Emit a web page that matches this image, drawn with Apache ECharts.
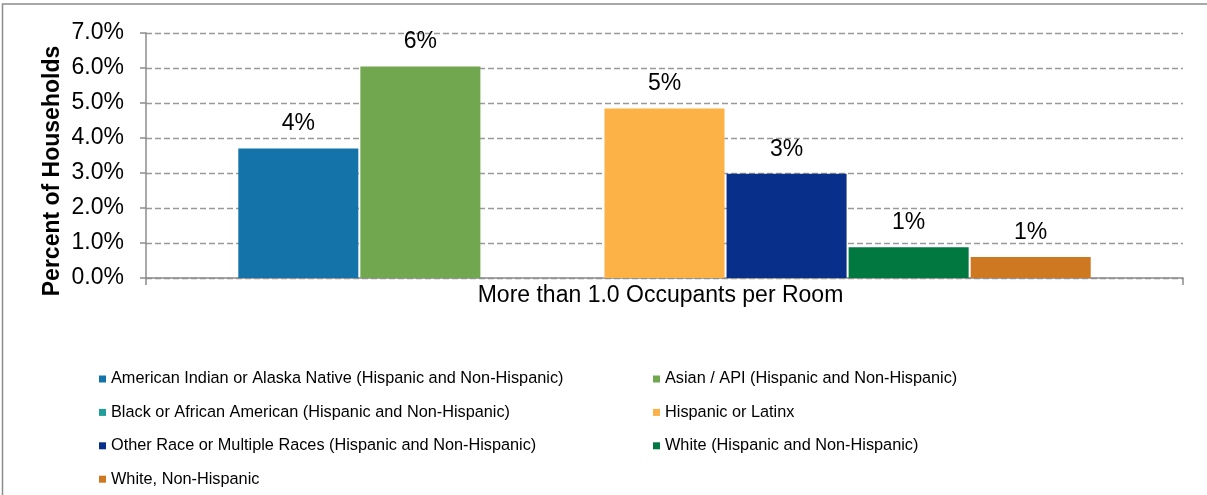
<!DOCTYPE html>
<html>
<head>
<meta charset="utf-8">
<script src="https://cdn.jsdelivr.net/npm/echarts@6/dist/echarts.min.js"></script>
<style>
  html, body { margin: 0; padding: 0; background: #fff; }
  #charts { width: 1207px; height: 495px; }
</style>
</head>
<body>
<div id="charts"></div>
<script>
var categories = ["More than 1.0 Occupants per Room"];
var seriesNames = [
  "American Indian or Alaska Native (Hispanic and Non-Hispanic)",
  "Asian / API (Hispanic and Non-Hispanic)",
  "Black or African American (Hispanic and Non-Hispanic)",
  "Hispanic or Latinx",
  "Other Race or Multiple Races (Hispanic and Non-Hispanic)",
  "White (Hispanic and Non-Hispanic)",
  "White, Non-Hispanic"
];
// percent of households, one value per series (Black has no bar)
var seriesValues = [3.7, 6.04, null, 4.84, 2.98, 0.88, 0.6];
var seriesColors = ["#1474a9", "#71a74f", "#1f9e9b", "#fdb247", "#082f89", "#017840", "#cf7822"];
var yTicks = [0, 1, 2, 3, 4, 5, 6, 7];

var font = "'Liberation Sans', Arial, sans-serif";

var series = [];
for (var i = 0; i < seriesNames.length; i++) {
  series.push({
    name: seriesNames[i],
    type: 'bar',
    barCategoryGap: '17.8%',
    barGap: '1.7%',
    itemStyle: { color: seriesColors[i] },
    label: {
      show: true,
      position: 'top',
      distance: 13,
      color: '#000',
      fontFamily: font,
      fontSize: 23,
      lineHeight: 23,
      formatter: function (p) { return Math.round(p.value) + '%'; }
    },
    data: [seriesValues[i]]
  });
}

var legendText = { color: '#000', fontSize: 16.3, lineHeight: 20, fontFamily: font };

var chart = echarts.init(document.getElementById("charts"));
chart.setOption({
  animation: false,
  color: seriesColors,
  textStyle: { fontFamily: font },
  grid: { left: 146, right: 24, top: 33, bottom: 217 },
  graphic: {
    elements: [{
      type: 'rect',
      shape: { x: 2.5, y: 4, width: 1300, height: 600 },
      style: { fill: 'none', stroke: '#8c8c8c', lineWidth: 1.5 },
      silent: true
    }, {
      type: 'text',
      x: 53,
      y: 171,
      rotation: Math.PI / 2,
      style: {
        text: "Percent of Households",
        fontFamily: font,
        fontSize: 23,
        fontWeight: 'bold',
        fill: '#000',
        align: 'center',
        verticalAlign: 'middle'
      }
    }]
  },
  legend: [{
    orient: 'vertical',
    left: 99,
    top: 369,
    padding: 0,
    itemGap: 13.4,
    itemWidth: 7,
    itemHeight: 7,
    icon: 'rect',
    textStyle: legendText,
    data: [seriesNames[0], seriesNames[2], seriesNames[4], seriesNames[6]]
  }, {
    orient: 'vertical',
    left: 653,
    top: 369,
    padding: 0,
    itemGap: 13.4,
    itemWidth: 7,
    itemHeight: 7,
    icon: 'rect',
    textStyle: legendText,
    data: [seriesNames[1], seriesNames[3], seriesNames[5]]
  }],
  xAxis: {
    type: 'category',
    data: categories,
    axisLine: { lineStyle: { color: '#8c8c8c', width: 1.5 } },
    axisTick: { show: true, length: 7, lineStyle: { color: '#8c8c8c', width: 1.5 } },
    axisLabel: { color: '#000', fontSize: 23, fontFamily: font, margin: 6, padding: [0, 8, 0, 0] }
  },
  yAxis: {
    type: 'value',
    min: yTicks[0],
    max: yTicks[yTicks.length - 1],
    interval: 1,
    axisLine: { show: true, lineStyle: { color: '#8c8c8c', width: 1.5 } },
    axisTick: { show: true, length: 6, lineStyle: { color: '#8c8c8c', width: 1.5 } },
    axisLabel: {
      color: '#000',
      fontSize: 23,
      fontFamily: font,
      margin: 22,
      padding: [9, 0, 0, 0],
      formatter: function (v) { return v.toFixed(1) + '%'; }
    },
    splitLine: { show: true, lineStyle: { color: '#999', width: 1.3, type: [6, 3] } }
  },
  series: series
});
</script>
</body>
</html>
